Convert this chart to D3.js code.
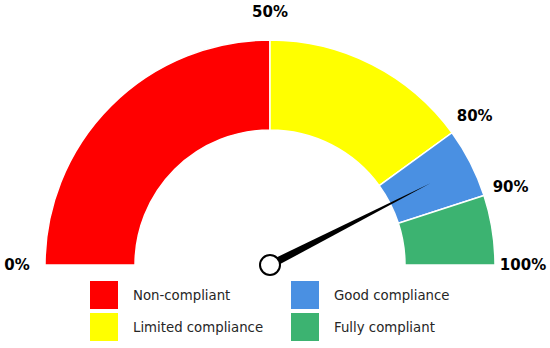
<!DOCTYPE html>
<html>
<head>
<meta charset="utf-8">
<script src="https://cdn.jsdelivr.net/npm/d3@7"></script>
<style>
  body { margin: 0; background: #fff; }
  svg { display: block; font-family: "DejaVu Sans", sans-serif; }
</style>
</head>
<body>
<svg width="550" height="348"></svg>
<script>
// gauge bands (percent)
const categories = ['Non-compliant', 'Limited compliance', 'Good compliance', 'Fully compliant'];
const band_starts = [0, 50, 80, 90];
const band_ends = [50, 80, 90, 100];
const colors = ['#ff0000', '#ffff00', '#4a90e2', '#3cb371'];
const tick_values = [0, 50, 80, 90, 100];
const tick_labels = ['0%', '50%', '80%', '90%', '100%'];
const needle_value = 85;

const svg = d3.select('svg');
const cx = 270, cy = 265;
const outer = 225, inner = 135;

const angle = d3.scaleLinear().domain([0, 100]).range([-Math.PI / 2, Math.PI / 2]);

const arc = d3.arc().innerRadius(inner).outerRadius(outer);

const g = svg.append('g').attr('transform', 'translate(' + cx + ',' + cy + ')');

g.selectAll('.band')
    .data(categories)
    .enter().append('path')
    .attr('class', 'band')
    .attr('d', function (d, i) {
        return arc({ startAngle: angle(band_starts[i]), endAngle: angle(band_ends[i]) });
    })
    .attr('fill', function (d, i) { return colors[i]; })
    .attr('stroke', '#fff')
    .attr('stroke-width', 1.5);

// labels around the gauge
const label_r = 253;
g.selectAll('.tick')
    .data(tick_values)
    .enter().append('text')
    .attr('class', 'tick')
    .attr('x', function (d) { return label_r * Math.sin(angle(d)); })
    .attr('y', function (d) { return -label_r * Math.cos(angle(d)); })
    .attr('text-anchor', 'middle')
    .attr('dominant-baseline', 'central')
    .attr('font-size', 15)
    .attr('font-weight', 'bold')
    .attr('fill', '#000')
    .text(function (d, i) { return tick_labels[i]; });

// needle
const a = angle(needle_value);
const len = 180, half = 4;
const pts = [
    [len * Math.sin(a), -len * Math.cos(a)],
    [half * Math.cos(a), half * Math.sin(a)],
    [-half * Math.cos(a), -half * Math.sin(a)]
];
g.append('path')
    .attr('d', d3.line()(pts) + 'Z')
    .attr('fill', '#000');

g.append('circle')
    .attr('r', 10)
    .attr('fill', '#fff')
    .attr('stroke', '#000')
    .attr('stroke-width', 2);

// legend 2x2
const legend = svg.append('g');
const col_x = [90, 291], row_y = [281, 313];
const items = legend.selectAll('.item')
    .data(categories)
    .enter().append('g')
    .attr('class', 'item')
    .attr('transform', function (d, i) {
        return 'translate(' + col_x[Math.floor(i / 2)] + ',' + row_y[i % 2] + ')';
    });

items.append('rect')
    .attr('width', 28)
    .attr('height', 28)
    .attr('fill', function (d, i) { return colors[i]; });

items.append('text')
    .attr('x', 43)
    .attr('y', 14)
    .attr('dominant-baseline', 'central')
    .attr('font-size', 13.3)
    .attr('fill', '#262626')
    .text(function (d) { return d; });
</script>
</body>
</html>
